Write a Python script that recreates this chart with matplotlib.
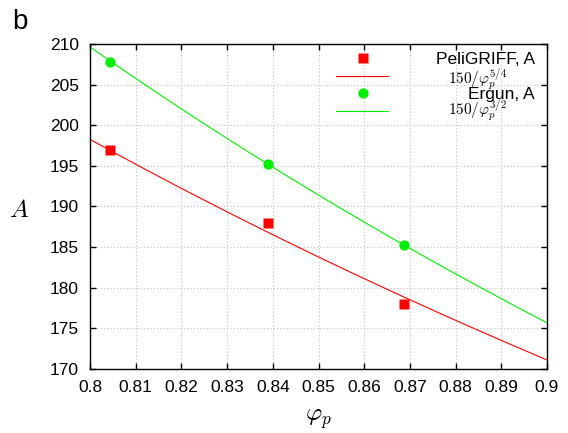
import numpy as np
import matplotlib
matplotlib.use('Agg')
import matplotlib.pyplot as plt

plt.rcParams['font.family'] = ['Liberation Sans', 'DejaVu Sans']
plt.rcParams['mathtext.fontset'] = 'cm'

# data points
phi_pts = [0.8044, 0.8389, 0.8687]
A_peligriff = [197.0, 188.0, 178.0]
A_ergun = [207.8, 195.2, 185.2]

# fitted laws given in the legend: A = coef / phi^exp
coef = 150.0
exp_red = 5.0 / 4.0
exp_green = 3.0 / 2.0

xticks = [0.8, 0.81, 0.82, 0.83, 0.84, 0.85, 0.86, 0.87, 0.88, 0.89, 0.9]
yticks = [170, 175, 180, 185, 190, 195, 200, 205, 210]

red = '#ff0000'
green = '#00ee00'

fig = plt.figure(figsize=(5.68, 4.33), dpi=100)
ax = fig.add_axes([0.1585, 0.1478, 0.963 - 0.1585, 0.8984 - 0.1478])

phi = np.linspace(0.8, 0.9, 300)
ax.plot(phi, coef / phi**exp_red, color=red, lw=0.8)
ax.plot(phi, coef / phi**exp_green, color=green, lw=0.8)
ax.plot(phi_pts, A_peligriff, 's', color=red, ms=7.7, mec='none', clip_on=False)
ax.plot(phi_pts, A_ergun, 'o', color=green, ms=7.4, mec='none', clip_on=False)

ax.set_xlim(0.8, 0.9)
ax.set_ylim(170, 210)
ax.set_xticks(xticks)
ax.set_xticklabels([f'{t:g}' for t in xticks])
ax.set_yticks(yticks)
ax.grid(True, color='#c0c0c0', linestyle=(0, (1, 2)), lw=0.8)
ax.tick_params(direction='in', top=True, right=True, length=4, width=1,
               labelsize=12.5, pad=8)
for s in ax.spines.values():
    s.set_linewidth(1)

ax.set_ylabel('$A$', rotation=0, fontsize=18, ha='center', va='center')
ax.yaxis.set_label_coords(-0.155, 0.49)
ax.set_xlabel(r'$\varphi_p$', fontsize=18, ha='center', va='center')
ax.xaxis.set_label_coords(0.499, -0.155)

# legend, drawn by hand (gnuplot style)
tr = ax.transAxes
ax.plot([0.597], [0.956], 's', color=red, ms=7.7, mec='none', transform=tr, clip_on=False)
ax.plot([0.538, 0.652], [0.902, 0.902], color=red, lw=0.8, transform=tr, clip_on=False)
ax.plot([0.597], [0.848], 'o', color=green, ms=7.4, mec='none', transform=tr, clip_on=False)
ax.plot([0.538, 0.652], [0.795, 0.795], color=green, lw=0.8, transform=tr, clip_on=False)
ax.text(0.974, 0.951, 'PeliGRIFF, A', transform=tr, ha='right', va='center', fontsize=12.5)
ax.text(0.974, 0.845, 'Ergun, A', transform=tr, ha='right', va='center', fontsize=12.5)
ax.text(0.783, 0.877, r'$150/\varphi_p^{5/4}$', transform=tr, ha='left', va='baseline', fontsize=11)
ax.text(0.783, 0.782, r'$150/\varphi_p^{3/2}$', transform=tr, ha='left', va='baseline', fontsize=11)

fig.text(0.022, 1 - 29 / 433, 'b', fontsize=20, va='baseline')

plt.savefig('out.png', dpi=100)
